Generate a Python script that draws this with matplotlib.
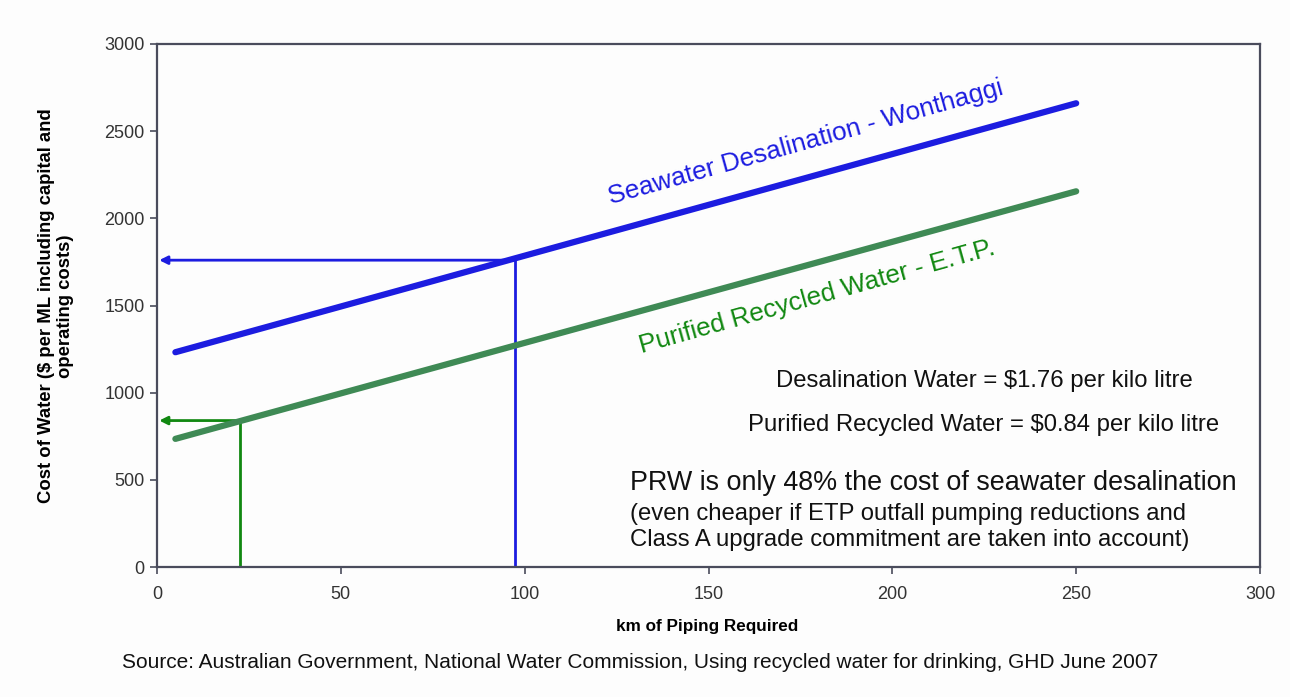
import matplotlib.pyplot as plt

plt.rcParams['font.family'] = ['Liberation Sans', 'DejaVu Sans']

# ---------------------------------------------------------------------------
# DATA
# ---------------------------------------------------------------------------
km = [5, 250]
seawater_cost = [1232, 2660]
recycled_cost = [735, 2155]

# read-off points for each option
desal_km, desal_cost = 97.4, 1760
prw_km, prw_cost = 22.6, 840

x_ticks = [0, 50, 100, 150, 200, 250, 300]
y_ticks = [0, 500, 1000, 1500, 2000, 2500, 3000]

BLUE = "#1c1ce0"
GREEN_LINE = "#3f8a55"
GREEN = "#118811"
SPINE = "#4a4c5c"

W, H = 1290, 697

fig = plt.figure(figsize=(W / 100, H / 100), dpi=100, facecolor="#fdfdfd")
ax = fig.add_axes([157 / W, 1 - 567 / H, (1260 - 157) / W, (567 - 44) / H])
ax.set_facecolor("#fdfdfd")

ax.plot(km, seawater_cost, color=BLUE, lw=4.5, solid_capstyle="round", zorder=3)
ax.plot(km, recycled_cost, color=GREEN_LINE, lw=4.5, solid_capstyle="round", zorder=3)

# read-off guide lines with arrows pointing to the y axis
ax.plot([desal_km, desal_km], [0, desal_cost], color=BLUE, lw=2, zorder=2)
ax.annotate("", xy=(0.6, desal_cost), xytext=(desal_km, desal_cost),
            arrowprops=dict(arrowstyle="-|>", color=BLUE, lw=2, mutation_scale=12,
                            shrinkA=0, shrinkB=0), zorder=2)
ax.plot([prw_km, prw_km], [0, prw_cost], color=GREEN, lw=2, zorder=2)
ax.annotate("", xy=(0.6, prw_cost), xytext=(prw_km, prw_cost),
            arrowprops=dict(arrowstyle="-|>", color=GREEN, lw=2, mutation_scale=12,
                            shrinkA=0, shrinkB=0), zorder=2)

ax.set_xlim(0, 300)
ax.set_ylim(0, 3000)
ax.set_xticks(x_ticks)
ax.set_yticks(y_ticks)
ax.tick_params(direction="out", length=5, width=1.2, color=SPINE,
               labelsize=13, labelcolor="#333333")
ax.tick_params(axis="x", pad=9)
ax.tick_params(axis="y", pad=4)
for s in ax.spines.values():
    s.set_color(SPINE)
    s.set_linewidth(1.6)

fig.text(707 / W, 1 - 626 / H, "km of Piping Required", fontsize=12.3,
         fontweight="bold", ha="center", va="center")
fig.text(56 / W, 1 - 306 / H,
         "Cost of Water ($ per ML including capital and\noperating costs)",
         fontsize=13.3, fontweight="bold", rotation=90, ha="center", va="center",
         multialignment="center", linespacing=1.1)

# line labels along the lines
ax.text(176.4, 2433, "Seawater Desalination - Wonthaggi", color=BLUE, fontsize=18.8,
        rotation=15.6, ha="center", va="center", rotation_mode="anchor")
ax.text(179.6, 1549, "Purified Recycled Water - E.T.P.", color=GREEN, fontsize=18.8,
        rotation=15.6, ha="center", va="center", rotation_mode="anchor")

# notes
fig.text(984 / W, 1 - 381 / H, "Desalination Water = $1.76 per kilo litre",
         fontsize=17.2, ha="center", va="center", color="#111111")
fig.text(984 / W, 1 - 425 / H, "Purified Recycled Water = $0.84 per kilo litre",
         fontsize=17.2, ha="center", va="center", color="#111111")
fig.text(630 / W, 1 - 490 / H, "PRW is only 48% the cost of seawater desalination",
         fontsize=19.4, ha="left", va="baseline", color="#111111")
fig.text(630 / W, 1 - 527 / H,
         "(even cheaper if ETP outfall pumping reductions and\n"
         "Class A upgrade commitment are taken into account)",
         fontsize=17.2, ha="left", va="center", color="#111111", linespacing=1.26)

fig.text(640 / W, 1 - 663 / H,
         "Source: Australian Government, National Water Commission, Using recycled water for drinking, GHD June 2007",
         fontsize=15, ha="center", va="center", color="#111111")

fig.savefig("out.png", dpi=100, facecolor=fig.get_facecolor())
